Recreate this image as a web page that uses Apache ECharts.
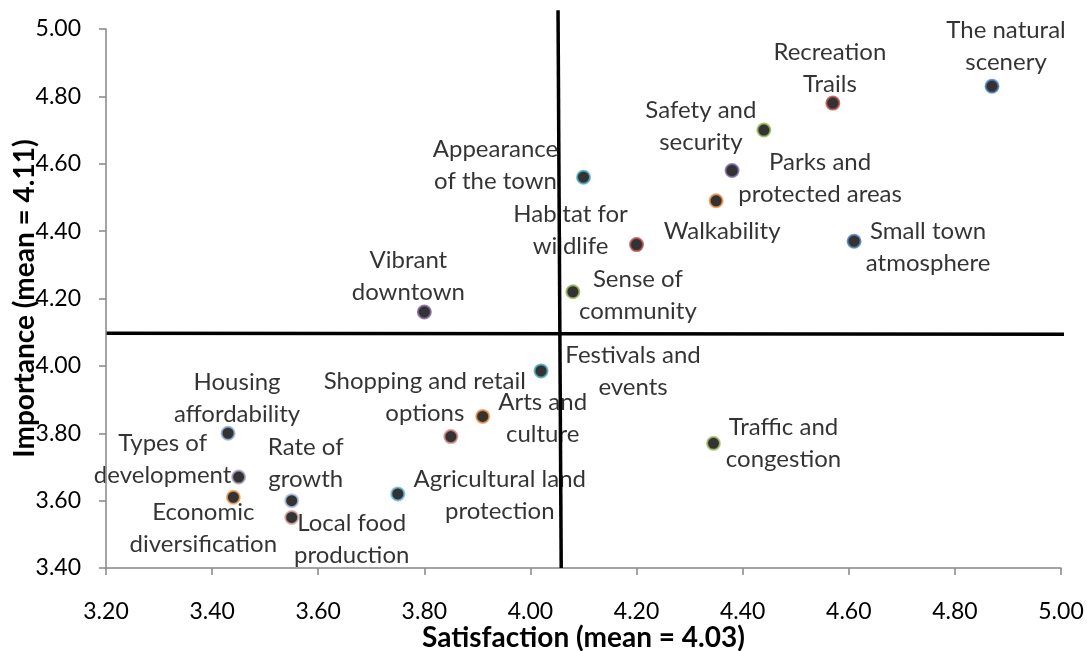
<!DOCTYPE html>
<html>
<head>
<meta charset="utf-8">
<script src="https://cdn.jsdelivr.net/npm/echarts@6/dist/echarts.min.js"></script>
<style>
html,body{margin:0;padding:0;background:#fff;}
#chart{width:1087px;height:651px;}
</style>
</head>
<body>
<div id="chart"></div>
<script>
// ---- data ----
const labels = [
  "The natural\nscenery", "Recreation\nTrails", "Safety and\nsecurity", "Parks and\nprotected areas",
  "Appearance\nof the town", "Walkability", "Small town\natmosphere", "Habitat for\nwildlife",
  "Sense of\ncommunity", "Vibrant\ndowntown", "Festivals and\nevents", "Arts and\nculture",
  "Housing\naffordability", "Shopping and retail\noptions", "Traffic and\ncongestion",
  "Types of\ndevelopment", "Agricultural land\nprotection", "Economic\ndiversification",
  "Rate of\ngrowth", "Local food\nproduction"
];
const satisfaction = [4.87, 4.57, 4.44, 4.38, 4.10, 4.35, 4.61, 4.20, 4.08, 3.80, 4.02, 3.91,
  3.43, 3.85, 4.345, 3.45, 3.75, 3.44, 3.55, 3.55];
const importance = [4.83, 4.78, 4.70, 4.58, 4.56, 4.49, 4.37, 4.36, 4.22, 4.16, 3.985, 3.85,
  3.80, 3.79, 3.77, 3.67, 3.62, 3.61, 3.60, 3.55];
const xTicks = [3.2, 5.0, 0.2];   // min, max, step
const yTicks = [3.4, 5.0, 0.2];
const satisfactionMeanLine = [[4.052, 5.056], [4.058, 3.40]];
const importanceMeanLine = [[3.20, 4.097], [5.045, 4.094]];

// ---- styles ----
const borderColors = ['#4F81BD', '#C0504D', '#9BBB59', '#8064A2', '#4BACC6', '#F79646', '#4F81BD',
  '#C0504D', '#9BBB59', '#8064A2', '#4BACC6', '#F79646', '#8EAEDB', '#D98A88', '#A9C470',
  '#B3A2C7', '#6CBCD6', '#F5A05A', '#B0C4E6', '#E0A8A6'];
const labelOffsets = [[14, -40], [-3, -35], [-63, -4], [88, 8], [-88, -12], [6, 30], [74, 6],
  [-66, -14], [65, 4], [-16, -36], [92, 0], [60, 2], [9, -35], [-26, -39], [70, 0],
  [-76, -18], [102, 1], [-30, 31], [14, -37], [60, 22]];

const FONT = 'Lato';
const points = labels.map((n, i) => ({
  value: [satisfaction[i], importance[i]],
  name: n,
  itemStyle: { color: '#000', borderColor: borderColors[i], borderWidth: 2 }
}));

const axisCommon = {
  axisLine: { show: true, onZero: false, lineStyle: { color: '#868686', width: 1.5 } },
  axisTick: { show: true, inside: false, length: 7, lineStyle: { color: '#868686', width: 1.5 } },
  splitLine: { show: false },
  axisLabel: { color: '#000', fontFamily: FONT, fontSize: 23, formatter: v => v.toFixed(2) },
  nameLocation: 'middle',
  nameMoveOverlap: false,
  nameTextStyle: { color: '#000', fontFamily: FONT, fontSize: 28, fontWeight: 'bold' }
};

const chart = echarts.init(document.getElementById('chart'), null, { renderer: 'canvas' });
chart.setOption({
  animation: false,
  backgroundColor: '#fff',
  grid: { left: 106, right: 26, top: 29, bottom: 83, containLabel: false, outerBoundsMode: 'none' },
  xAxis: Object.assign({}, axisCommon, {
    type: 'value', min: xTicks[0], max: xTicks[1], interval: xTicks[2],
    name: 'Satisfaction (mean = 4.03)', nameGap: 56,
    axisLabel: Object.assign({}, axisCommon.axisLabel, { margin: 32 })
  }),
  yAxis: Object.assign({}, axisCommon, {
    type: 'value', min: yTicks[0], max: yTicks[1], interval: yTicks[2],
    name: 'Importance (mean = 4.11)', nameGap: 67, z: 5,
    axisLabel: Object.assign({}, axisCommon.axisLabel, { margin: 25 })
  }),
  series: [
    {
      type: 'line', data: satisfactionMeanLine, symbol: 'none', clip: false, silent: true,
      lineStyle: { color: '#000', width: 3.5 }, z: 1
    },
    {
      type: 'line', data: importanceMeanLine, symbol: 'none', clip: false, silent: true,
      lineStyle: { color: '#000', width: 3.5 }, z: 1
    },
    {
      type: 'scatter', data: points, symbolSize: 13, z: 3,
      label: {
        show: true, position: 'inside', formatter: p => p.name,
        color: '#000', fontFamily: FONT, fontSize: 24, lineHeight: 32,
        align: 'center', verticalAlign: 'middle'
      },
      labelLayout: p => ({ dx: labelOffsets[p.dataIndex][0], dy: labelOffsets[p.dataIndex][1], hideOverlap: false })
    }
  ]
});
</script>
</body>
</html>
